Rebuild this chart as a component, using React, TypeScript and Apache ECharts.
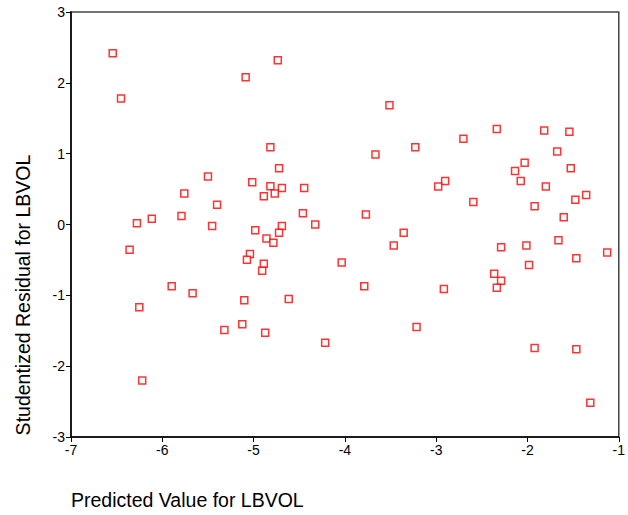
import React, { useEffect, useRef } from "react";
import * as echarts from "echarts";

const predicted: number[] = [
  -6.543, -6.452, -5.087, -5.5, -5.015, -5.759, -5.4, -6.115, -5.79, -6.278,
  -4.735, -3.512, -4.816, -3.665, -3.229, -4.721, -4.816, -4.69, -4.446, -4.888,
  -4.768, -4.46, -3.77, -2.336, -1.817, -1.541, -2.702, -1.675, -2.031, -2.136,
  -1.526, -2.902, -2.978, -2.074, -1.799, -1.357, -1.476, -2.593, -1.922, -1.603,
  -5.454, -4.982, -6.358, -5.04, -5.073, -5.897, -5.668, -6.252, -5.102, -5.32,
  -5.124, -6.22, -4.69, -4.325, -4.721, -4.859, -4.783, -3.356, -3.465, -4.888,
  -4.906, -4.035, -3.788, -4.615, -4.873, -4.216, -3.215, -2.289, -2.012, -1.661,
  -1.127, -1.465, -1.983, -2.365, -2.289, -2.336, -2.916, -1.922, -1.465, -1.312,
];

const residual: number[] = [
  2.417, 1.78, 2.08, 0.676, 0.596, 0.437, 0.28, 0.08, 0.12, 0.018,
  2.32, 1.685, 1.089, 0.99, 1.089, 0.793, 0.54, 0.516, 0.516, 0.4,
  0.437, 0.159, 0.14, 1.347, 1.328, 1.31, 1.21, 1.032, 0.873, 0.755,
  0.793, 0.614, 0.535, 0.614, 0.535, 0.417, 0.35, 0.318, 0.258, 0.103,
  -0.02, -0.08, -0.357, -0.418, -0.498, -0.873, -0.972, -1.169, -1.07, -1.489,
  -1.408, -2.203, -0.02, 0.0, -0.118, -0.197, -0.259, -0.118, -0.296, -0.555,
  -0.654, -0.535, -0.873, -1.052, -1.527, -1.668, -1.446, -0.32, -0.296, -0.221,
  -0.394, -0.475, -0.573, -0.696, -0.794, -0.893, -0.911, -1.742, -1.761, -2.517,
];

const xTitle = "Predicted Value for LBVOL";
const yTitle = "Studentized Residual for LBVOL";

export default function App() {
  const ref = useRef<HTMLDivElement>(null);
  useEffect(() => {
    if (!ref.current) return;
    const chart = echarts.init(ref.current, null, { renderer: "svg" });
    const font = "'Liberation Sans', Arial, sans-serif";
    const data = predicted.map((x, i) => [x, residual[i]]);
    chart.setOption({
      animation: false,
      backgroundColor: "#fff",
      grid: {
        left: 71,
        right: 6,
        top: 12,
        bottom: 78,
        show: true,
        borderColor: "#444",
        borderWidth: 1.5,
        backgroundColor: "transparent",
      },
      xAxis: {
        type: "value",
        min: -7,
        max: -1,
        interval: 1,
        axisLine: { show: true, onZero: false, lineStyle: { color: "#000", width: 1.5 } },
        axisTick: { show: true, inside: false, length: 5, lineStyle: { color: "#000" } },
        axisLabel: { color: "#000", fontSize: 14, fontFamily: font, margin: 6 },
        splitLine: { show: false },
      },
      yAxis: {
        type: "value",
        min: -3,
        max: 3,
        interval: 1,
        axisLine: { show: true, onZero: false, lineStyle: { color: "#000", width: 1.5 } },
        axisTick: { show: true, inside: false, length: 5, lineStyle: { color: "#000" } },
        axisLabel: { color: "#000", fontSize: 14, fontFamily: font, margin: 6 },
        splitLine: { show: false },
      },
      graphic: [
        {
          type: "text",
          x: 71,
          y: 500,
          style: {
            text: xTitle,
            fill: "#000",
            fontSize: 19.5,
            fontFamily: font,
            align: "left",
            verticalAlign: "middle",
          },
        },
        {
          type: "text",
          x: 22.5,
          y: 295,
          rotation: Math.PI / 2,
          style: {
            text: yTitle,
            fill: "#000",
            fontSize: 19.5,
            fontFamily: font,
            align: "center",
            verticalAlign: "middle",
          },
        },
      ],
      series: [
        {
          type: "scatter",
          data,
          symbol: "rect",
          symbolSize: 7,
          itemStyle: { color: "#fff", borderColor: "#ff0000", borderWidth: 1.5 },
        },
      ],
    });
    return () => chart.dispose();
  }, []);
  return <div ref={ref} style={{ width: 628, height: 515, position: "absolute", left: 0, top: 0 }} />;
}
